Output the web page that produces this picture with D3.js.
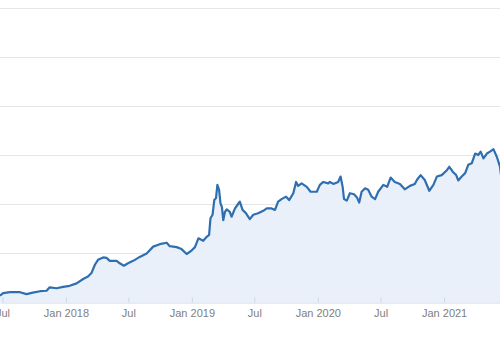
<!DOCTYPE html>
<html>
<head>
<meta charset="utf-8">
<script src="https://cdn.jsdelivr.net/npm/d3@7"></script>
<style>
  body { margin: 0; background: #fff; }
  text { font-family: "Liberation Sans", Arial, sans-serif; }
</style>
</head>
<body>
<div id="chart"></div>
<script>
// dates and values
var dates = [
  "2017-06-24", "2017-07-03", "2017-07-23", "2017-08-21", "2017-09-09", "2017-09-27",
  "2017-10-18", "2017-11-06", "2017-11-15", "2017-12-05", "2017-12-24", "2018-01-12",
  "2018-02-01", "2018-02-20", "2018-03-06", "2018-03-16", "2018-03-26", "2018-04-04",
  "2018-04-19", "2018-04-29", "2018-05-08", "2018-05-28", "2018-06-06", "2018-06-18",
  "2018-06-30", "2018-07-15", "2018-08-03", "2018-08-23", "2018-09-11", "2018-09-30",
  "2018-10-20", "2018-10-29", "2018-11-18", "2018-12-02", "2018-12-17", "2018-12-31",
  "2019-01-10", "2019-01-20", "2019-02-03", "2019-02-13", "2019-02-20", "2019-02-24",
  "2019-03-02", "2019-03-07", "2019-03-12", "2019-03-16", "2019-03-21", "2019-03-25",
  "2019-03-29", "2019-04-02", "2019-04-07", "2019-04-12", "2019-04-21", "2019-04-26",
  "2019-05-06", "2019-05-15", "2019-05-20", "2019-05-28", "2019-06-07", "2019-06-18",
  "2019-06-28", "2019-07-12", "2019-07-27", "2019-08-06", "2019-08-20", "2019-08-30",
  "2019-09-08", "2019-09-18", "2019-10-01", "2019-10-10", "2019-10-22", "2019-10-30",
  "2019-11-05", "2019-11-15", "2019-11-30", "2019-12-11", "2019-12-29", "2020-01-07",
  "2020-01-17", "2020-01-31", "2020-02-05", "2020-02-15", "2020-02-29", "2020-03-07",
  "2020-03-13", "2020-03-17", "2020-03-25", "2020-04-03", "2020-04-15", "2020-04-23",
  "2020-04-30", "2020-05-07", "2020-05-17", "2020-05-26", "2020-06-05", "2020-06-15",
  "2020-06-24", "2020-07-09", "2020-07-20", "2020-07-30", "2020-08-11", "2020-08-26",
  "2020-09-09", "2020-09-24", "2020-10-08", "2020-10-15", "2020-10-25", "2020-11-06",
  "2020-11-19", "2020-12-01", "2020-12-11", "2020-12-25", "2021-01-09", "2021-01-16",
  "2021-01-26", "2021-02-05", "2021-02-11", "2021-02-21", "2021-03-03", "2021-03-12",
  "2021-03-22", "2021-04-01", "2021-04-10", "2021-04-17", "2021-04-25", "2021-05-05",
  "2021-05-14", "2021-05-24", "2021-06-03", "2021-06-12", "2021-06-16"
];
var values = [
  13, 18, 20, 20, 16, 19,
  22, 23, 30, 28, 31, 33,
  38, 47, 52, 59, 76, 86,
  91, 90, 84, 84, 79, 74,
  79, 84, 92, 99, 113, 118,
  121, 114, 112, 108, 98, 105,
  112, 130, 125, 133, 137, 171,
  178, 208, 212, 239, 229, 201,
  194, 167, 184, 189, 184, 174,
  191, 200, 205, 188, 181, 169,
  178, 181, 186, 191, 191, 188,
  205, 210, 215, 208, 222, 245,
  237, 242, 235, 225, 225, 239,
  245, 242, 245, 241, 245, 256,
  235, 210, 207, 222, 220, 214,
  203, 225, 232, 229, 215, 210,
  225, 239, 235, 254, 245, 241,
  230, 237, 241, 250, 259, 249,
  227, 239, 256, 259, 269, 276,
  266, 259, 248, 256, 263, 280,
  283, 303, 300, 307, 293, 303,
  307, 312, 296, 276, 253
];
var tickDates = ["2017-07-01", "2018-01-01", "2018-07-01", "2019-01-01", "2019-07-01",
                 "2020-01-01", "2020-07-01", "2021-01-01"];
var yTicks = [100, 200, 300, 400, 500, 600];

var width = 500, height = 350;
var parse = d3.timeParse("%Y-%m-%d");

var data = dates.map(function (d, i) { return { date: parse(d), value: values[i] }; });

var svg = d3.select("#chart")
  .append("svg")
  .attr("width", width)
  .attr("height", height);

var x = d3.scaleTime()
  .domain([parse("2017-06-24"), parse("2021-06-12")])
  .range([0, 500]);

var y = d3.scaleLinear()
  .domain([0, 600])
  .range([302, 8]);

// horizontal grid lines
svg.selectAll("line.grid")
  .data(yTicks)
  .enter()
  .append("line")
  .attr("class", "grid")
  .attr("x1", 0)
  .attr("x2", width)
  .attr("y1", function (d) { return Math.round(y(d)) + 0.5; })
  .attr("y2", function (d) { return Math.round(y(d)) + 0.5; })
  .attr("stroke", "#e6e6e6")
  .attr("stroke-width", 1);

// area + line
var area = d3.area()
  .x(function (d) { return x(d.date); })
  .y0(y(0))
  .y1(function (d) { return y(d.value); });

var line = d3.line()
  .x(function (d) { return x(d.date); })
  .y(function (d) { return y(d.value); });

svg.append("path")
  .datum(data)
  .attr("d", area)
  .attr("fill", "#eaf0f9");

svg.append("path")
  .datum(data)
  .attr("d", line)
  .attr("fill", "none")
  .attr("stroke", "#2f6fb0")
  .attr("stroke-width", 2.2)
  .attr("stroke-linejoin", "round");

// x axis
var fmt = function (d) {
  return d.getMonth() === 0 ? d3.timeFormat("%b %Y")(d) : d3.timeFormat("%b")(d);
};
var xAxis = svg.append("g")
  .attr("transform", "translate(0," + (Math.round(y(0)) + 0.5) + ")")
  .call(d3.axisBottom(x)
    .tickValues(tickDates.map(parse))
    .tickFormat(fmt)
    .tickSizeInner(-5)
    .tickSizeOuter(0)
    .tickPadding(7));

xAxis.select(".domain").attr("stroke", "#ccd6eb");
xAxis.selectAll(".tick line").attr("stroke", "#ccd6eb");
xAxis.selectAll(".tick text")
  .attr("fill", "#808080")
  .style("font-size", "11px")
  .style("font-family", "'Liberation Sans', Arial, sans-serif");
</script>
</body>
</html>
